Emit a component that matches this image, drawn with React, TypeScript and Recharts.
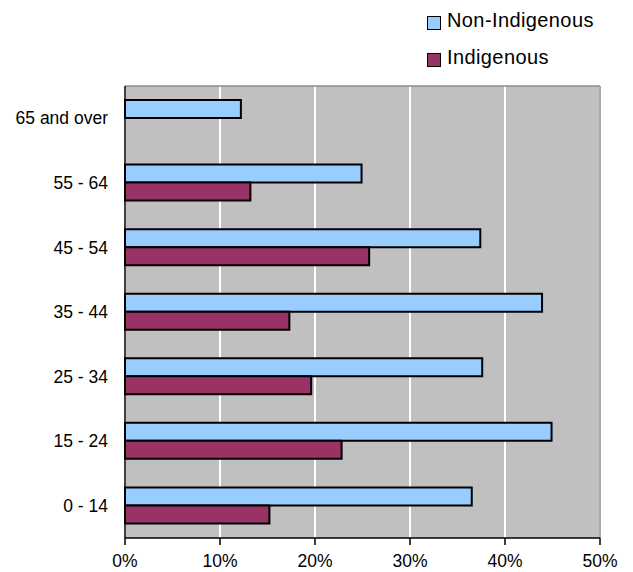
import { Bar, BarChart, CartesianGrid, Legend, XAxis, YAxis } from 'recharts'

const ageGroups = ['65 and over', '55 - 64', '45 - 54', '35 - 44', '25 - 34', '15 - 24', '0 - 14']
const nonIndigenous = [12.2, 24.9, 37.4, 43.9, 37.6, 44.9, 36.5]
const indigenous = [null, 13.2, 25.7, 17.3, 19.6, 22.8, 15.2]
const percentTicks = [0, 10, 20, 30, 40, 50]
const seriesOrder = ['Non-Indigenous', 'Indigenous']

const rows = ageGroups.map((group, i) => ({
  group,
  nonIndigenous: nonIndigenous[i],
  indigenous: indigenous[i],
}))

const font = 'Arial, "Liberation Sans", sans-serif'

const LegendBox = ({ payload }: { payload?: any[] }) => {
  const items = [...(payload ?? [])].sort(
    (a, b) => seriesOrder.indexOf(a.value) - seriesOrder.indexOf(b.value),
  )
  return (
    <div style={{ fontFamily: font, fontSize: 20, color: '#000', letterSpacing: 0.4 }}>
      {items.map((entry) => (
        <div
          key={entry.value}
          style={{ display: 'flex', height: 20, lineHeight: '20px', marginBottom: 17 }}
        >
          <span
            style={{
              width: 12,
              height: 12,
              marginTop: 6,
              marginRight: 6,
              background: entry.color,
              border: '1.5px solid #000',
            }}
          />
          <span>{entry.value}</span>
        </div>
      ))}
    </div>
  )
}

export default function App() {
  return (
    <div style={{ position: 'absolute', top: 0, left: 0, width: 633, height: 572 }}>
      <BarChart
        barCategoryGap={14}
        barGap={0}
        data={rows}
        height={572}
        layout="vertical"
        margin={{ top: 86, right: 33, bottom: 0, left: 0 }}
        width={633}
      >
        <CartesianGrid fill="#C0C0C0" horizontal={false} stroke="#fff" strokeWidth={2} />
        <CartesianGrid
          fill="none"
          horizontalPoints={[86]}
          stroke="#8c8c8c"
          strokeWidth={1.5}
          verticalPoints={[600]}
        />
        <XAxis
          axisLine={{ stroke: '#000', strokeWidth: 1.5 }}
          domain={[0, 50]}
          height={34}
          tick={{ fill: '#000', fontFamily: font, fontSize: 17.5 }}
          tickFormatter={(v) => `${v}%`}
          tickLine={{ stroke: '#000', strokeWidth: 1.5 }}
          tickMargin={10}
          tickSize={7}
          ticks={percentTicks}
          type="number"
        />
        <YAxis
          axisLine={{ stroke: '#000', strokeWidth: 1.5 }}
          dataKey="group"
          tick={{ fill: '#000', fontFamily: font, fontSize: 17.5 }}
          tickLine={false}
          tickMargin={17}
          tickSize={0}
          type="category"
          width={125}
        />
        <Legend
          content={<LegendBox />}
          layout="vertical"
          verticalAlign="middle"
          wrapperStyle={{ top: 10, left: 427, width: 200 }}
        />
        <Bar
          dataKey="nonIndigenous"
          fill="#99CCFF"
          isAnimationActive={false}
          name="Non-Indigenous"
          stroke="#000"
          strokeWidth={2}
        />
        <Bar
          dataKey="indigenous"
          fill="#993366"
          isAnimationActive={false}
          name="Indigenous"
          stroke="#000"
          strokeWidth={2}
        />
      </BarChart>
    </div>
  )
}
